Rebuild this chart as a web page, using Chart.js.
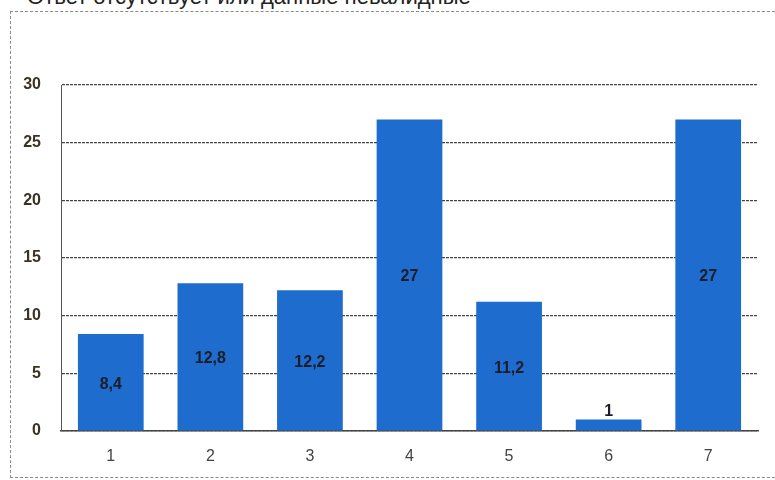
<!DOCTYPE html>
<html>
<head>
<meta charset="utf-8">
<script src="https://cdn.jsdelivr.net/npm/chart.js@4/dist/chart.umd.min.js"></script>
<style>
  html, body { margin: 0; padding: 0; background: #fff; overflow: hidden; }
  #wrap { position: relative; width: 775px; height: 480px; overflow: hidden; }
  #title {
    position: absolute; left: 27px; top: -16px; white-space: nowrap;
    font: 22px "Liberation Sans", Arial, sans-serif; color: #222;
  }
  #frame {
    position: absolute; left: 10px; top: 11px; width: 800px; height: 467px;
    border: 1px dashed #8a8a8a; box-sizing: border-box;
  }
  #c { position: absolute; left: 0; top: 0; }
</style>
</head>
<body>
<div id="wrap">
  <div id="title">Ответ отсутствует или данные невалидные</div>
  <div id="frame"></div>
  <canvas id="c" width="775" height="480"></canvas>
</div>
<script>
// Categories and values
const categories = ['1', '2', '3', '4', '5', '6', '7'];
const values = [8.4, 12.8, 12.2, 27, 11.2, 1, 27];
const valueLabels = ['8,4', '12,8', '12,2', '27', '11,2', '1', '27'];
const yTicks = [0, 5, 10, 15, 20, 25, 30];

// Writes each bar's value in its middle, or above it when the bar is too short
const barValues = {
  id: 'barValues',
  afterDatasetsDraw(chart) {
    const ctx = chart.ctx;
    const meta = chart.getDatasetMeta(0);
    ctx.save();
    ctx.font = 'bold 16px "Liberation Sans Narrow", "Liberation Sans", Arial, sans-serif';
    ctx.fillStyle = '#1b1d2b';
    ctx.textAlign = 'center';
    ctx.textBaseline = 'middle';
    meta.data.forEach((bar, i) => {
      const h = bar.base - bar.y;
      const y = h < 24 ? bar.y - 8 : (bar.y + bar.base) / 2 + 2;
      ctx.fillText(valueLabels[i], bar.x, y);
    });
    ctx.restore();
  }
};

new Chart(document.getElementById('c'), {
  type: 'bar',
  data: {
    labels: categories,
    datasets: [{
      data: values,
      backgroundColor: '#1e6ccd',
      borderWidth: 0,
      barPercentage: 0.66,
      categoryPercentage: 1
    }]
  },
  options: {
    responsive: false,
    animation: false,
    events: [],
    layout: { padding: { left: 0, top: 85, right: 17, bottom: 0 } },
    plugins: { legend: { display: false }, tooltip: { enabled: false } },
    scales: {
      x: {
        grid: { display: false },
        border: { display: true, color: '#444', width: 1.5 },
        ticks: {
          color: '#444',
          padding: 8,
          font: { family: '"Liberation Sans", Arial, sans-serif', size: 16 }
        },
        afterFit(scale) { scale.height = 49; }
      },
      y: {
        min: 0, max: 30,
        afterBuildTicks(scale) { scale.ticks = yTicks.map(v => ({ value: v })); },
        grid: { color: '#444', lineWidth: 1.2, drawTicks: false },
        border: { display: true, color: '#555', width: 1, dash: [3, 1] },
        ticks: {
          color: '#3a3224',
          padding: 20,
          font: { family: '"Liberation Sans Narrow", "Liberation Sans", Arial, sans-serif', size: 16, weight: 'bold' }
        },
        afterFit(scale) { scale.width = 61; }
      }
    }
  },
  plugins: [barValues]
});
</script>
</body>
</html>
